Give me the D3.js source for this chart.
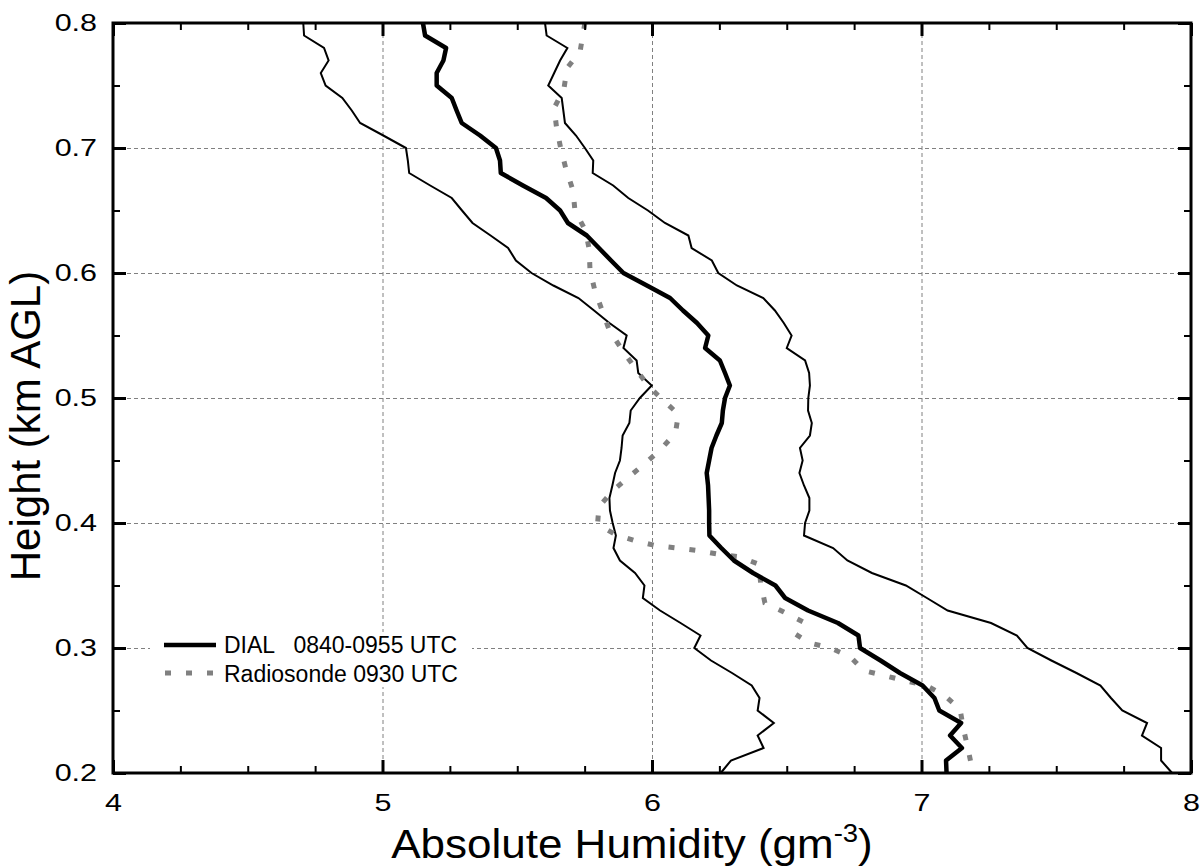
<!DOCTYPE html>
<html>
<head>
<meta charset="utf-8">
<script src="https://cdn.jsdelivr.net/npm/d3@7"></script>
<style>
  body { margin: 0; background: #fff; }
  text { font-family: "Liberation Sans", Arial, sans-serif; fill: #000; }
</style>
</head>
<body>
<svg id="chart" width="1203" height="868"></svg>
<script>
// heights (km AGL) of the DIAL profiles
const heights = [0.80, 0.79, 0.78, 0.77, 0.76, 0.75, 0.74, 0.73, 0.72, 0.71,
  0.70, 0.69, 0.68, 0.67, 0.66, 0.65, 0.64, 0.63, 0.62, 0.61,
  0.60, 0.59, 0.58, 0.57, 0.56, 0.55, 0.54, 0.53, 0.52, 0.51,
  0.50, 0.49, 0.48, 0.47, 0.46, 0.45, 0.44, 0.43, 0.42, 0.41,
  0.40, 0.39, 0.38, 0.37, 0.36, 0.35, 0.34, 0.33, 0.32, 0.31,
  0.30, 0.29, 0.28, 0.27, 0.26, 0.25, 0.24, 0.23, 0.22, 0.21, 0.20];

const dialMean = [5.150, 5.158, 5.236, 5.226, 5.201, 5.201, 5.257, 5.275, 5.294, 5.362,
  5.421, 5.436, 5.439, 5.521, 5.607, 5.659, 5.688, 5.758, 5.803, 5.848,
  5.894, 5.981, 6.067, 6.115, 6.167, 6.209, 6.197, 6.252, 6.271, 6.289,
  6.271, 6.263, 6.259, 6.239, 6.221, 6.212, 6.203, 6.208, 6.210, 6.212,
  6.212, 6.213, 6.257, 6.304, 6.375, 6.458, 6.494, 6.579, 6.690, 6.766,
  6.772, 6.848, 6.920, 7.004, 7.048, 7.066, 7.147, 7.106, 7.150, 7.091, 7.093];

const dialLow = [4.706, 4.709, 4.783, 4.800, 4.771, 4.789, 4.851, 4.886, 4.917, 5.003,
  5.087, 5.094, 5.099, 5.177, 5.257, 5.295, 5.334, 5.401, 5.466, 5.495,
  5.553, 5.634, 5.727, 5.785, 5.842, 5.906, 5.894, 5.943, 5.949, 5.999,
  5.955, 5.921, 5.916, 5.891, 5.887, 5.881, 5.863, 5.853, 5.842, 5.844,
  5.854, 5.866, 5.857, 5.881, 5.937, 5.972, 5.966, 6.030, 6.106, 6.180,
  6.157, 6.219, 6.297, 6.370, 6.399, 6.392, 6.452, 6.392, 6.414, 6.293, 6.255];

const dialHigh = [5.603, 5.609, 5.686, 5.659, 5.637, 5.615, 5.665, 5.671, 5.677, 5.718,
  5.751, 5.782, 5.780, 5.856, 5.912, 5.985, 6.048, 6.135, 6.147, 6.222,
  6.246, 6.315, 6.413, 6.456, 6.489, 6.518, 6.500, 6.568, 6.583, 6.586,
  6.580, 6.579, 6.593, 6.586, 6.549, 6.559, 6.547, 6.564, 6.584, 6.584,
  6.568, 6.564, 6.672, 6.725, 6.816, 6.942, 7.020, 7.097, 7.258, 7.354,
  7.393, 7.482, 7.575, 7.664, 7.703, 7.745, 7.837, 7.818, 7.889, 7.889, 7.930];

// radiosonde 0930 UTC
const sondeHeight = [0.800, 0.777, 0.764, 0.747, 0.732, 0.716, 0.699, 0.683, 0.666, 0.650,
  0.634, 0.619, 0.602, 0.586, 0.570, 0.554, 0.538, 0.524, 0.510, 0.499,
  0.487, 0.472, 0.459, 0.448, 0.437, 0.426, 0.413, 0.399, 0.391, 0.386,
  0.382, 0.380, 0.378, 0.375, 0.373, 0.367, 0.352, 0.336, 0.329, 0.321,
  0.311, 0.304, 0.300, 0.293, 0.282, 0.278, 0.274, 0.270, 0.262, 0.251,
  0.235, 0.218, 0.200];
const sondeValue = [5.751, 5.733, 5.685, 5.673, 5.637, 5.646, 5.662, 5.681, 5.707, 5.714,
  5.753, 5.767, 5.770, 5.788, 5.815, 5.842, 5.891, 5.937, 5.985, 6.037,
  6.098, 6.087, 6.033, 5.976, 5.915, 5.855, 5.803, 5.798, 5.863, 5.935,
  6.012, 6.090, 6.167, 6.247, 6.323, 6.397, 6.403, 6.419, 6.487, 6.560,
  6.533, 6.585, 6.662, 6.736, 6.785, 6.860, 6.936, 7.017, 7.086, 7.143,
  7.156, 7.174, 7.191];

const xMajor = [4, 5, 6, 7, 8];
const xMinor = [4.25, 4.5, 4.75, 5.25, 5.5, 5.75, 6.25, 6.5, 6.75, 7.25, 7.5, 7.75];
const yMajor = [0.2, 0.3, 0.4, 0.5, 0.6, 0.7, 0.8];
const yMinor = [0.25, 0.35, 0.45, 0.55, 0.65, 0.75];
const legendLabels = ["DIAL   0840-0955 UTC", "Radiosonde 0930 UTC"];

const width = 1203, height = 868;
let margin = ({top: 23, right: 12, bottom: 95, left: 113});
const svg = d3.select("#chart");

let x = d3.scaleLinear().domain([4, 8]).range([margin.left, width - margin.right]);
let y = d3.scaleLinear().domain([0.2, 0.8]).range([height - margin.bottom, margin.top]);
const x0 = x.range()[0], x1 = x.range()[1], y0 = y.range()[0], y1 = y.range()[1];

// grid
svg.append("g")
  .attr("transform", `translate(0,${y0})`)
  .call(d3.axisBottom(x).tickValues([5, 6, 7]).tickSize(-(y0 - y1)).tickFormat(""))
  .call(g => g.select(".domain").remove())
  .selectAll("line").attr("stroke", "#808080").attr("stroke-width", 1).attr("stroke-dasharray", "4,3");
svg.append("g")
  .attr("transform", `translate(${x0},0)`)
  .call(d3.axisLeft(y).tickValues([0.3, 0.4, 0.5, 0.6, 0.7]).tickSize(-(x1 - x0)).tickFormat(""))
  .call(g => g.select(".domain").remove())
  .selectAll("line").attr("stroke", "#808080").attr("stroke-width", 1).attr("stroke-dasharray", "4,3");

// legend box hides the grid behind it
svg.append("rect")
  .attr("x", 150).attr("y", 632).attr("width", 322).attr("height", 55)
  .attr("fill", "#fff");

// curves
let line = d3.line()
  .x(d => x(d[0]))
  .y(d => y(d[1]));

const lowPts = heights.map((h, i) => [dialLow[i], h]);
const highPts = heights.map((h, i) => [dialHigh[i], h]);
const meanPts = heights.map((h, i) => [dialMean[i], h]);
const sondePts = sondeHeight.map((h, i) => [sondeValue[i], h]);

svg.append("path").datum(lowPts)
  .attr("d", line).attr("fill", "none").attr("stroke", "#000").attr("stroke-width", 2);
svg.append("path").datum(highPts)
  .attr("d", line).attr("fill", "none").attr("stroke", "#000").attr("stroke-width", 2);
svg.append("path").datum(sondePts)
  .attr("d", line).attr("fill", "none").attr("stroke", "#808080")
  .attr("stroke-width", 5).attr("stroke-dasharray", "6,15");
svg.append("path").datum(meanPts)
  .attr("d", line).attr("fill", "none").attr("stroke", "#000")
  .attr("stroke-width", 4.5).attr("stroke-linejoin", "round");

// axes: ticks point inward on all four sides
function tickStyle(g, w) {
  g.select(".domain").remove();
  g.selectAll("line").attr("stroke", "#000").attr("stroke-width", w);
}
svg.append("g").attr("transform", `translate(0,${y0})`)
  .call(d3.axisBottom(x).tickValues(xMinor).tickSize(-7).tickFormat(""))
  .call(g => tickStyle(g, 2));
svg.append("g").attr("transform", `translate(0,${y1})`)
  .call(d3.axisTop(x).tickValues(xMinor).tickSize(-7).tickFormat(""))
  .call(g => tickStyle(g, 2));
svg.append("g").attr("transform", `translate(${x0},0)`)
  .call(d3.axisLeft(y).tickValues(yMinor).tickSize(-7).tickFormat(""))
  .call(g => tickStyle(g, 2));
svg.append("g").attr("transform", `translate(${x1},0)`)
  .call(d3.axisRight(y).tickValues(yMinor).tickSize(-7).tickFormat(""))
  .call(g => tickStyle(g, 2));

// tick labels in the source are drawn wider than Arial, so stretch them a bit
let xAxis = svg.append("g").attr("transform", `translate(0,${y0})`)
  .call(d3.axisBottom(x).tickValues(xMajor).tickSize(-13).tickPadding(21).tickFormat(d3.format("d")))
  .call(g => tickStyle(g, 3));
xAxis.selectAll("text")
  .attr("font-size", "24px").attr("fill", "#000")
  .attr("transform", "scale(1.27,1)");
svg.append("g").attr("transform", `translate(0,${y1})`)
  .call(d3.axisTop(x).tickValues(xMajor).tickSize(-13).tickFormat(""))
  .call(g => tickStyle(g, 3));

let yAxis = svg.append("g").attr("transform", `translate(${x0},0)`)
  .call(d3.axisLeft(y).tickValues(yMajor).tickSize(-13).tickFormat(d3.format(".1f")))
  .call(g => tickStyle(g, 3));
yAxis.selectAll("text")
  .attr("font-size", "24px").attr("fill", "#000")
  .attr("x", 0)
  .attr("transform", "translate(-16,0) scale(1.27,1)");
svg.append("g").attr("transform", `translate(${x1},0)`)
  .call(d3.axisRight(y).tickValues(yMajor).tickSize(-13).tickFormat(""))
  .call(g => tickStyle(g, 3));

svg.selectAll(".tick text").attr("font-family", "'Liberation Sans', Arial, sans-serif");

// frame
svg.append("rect")
  .attr("x", x0).attr("y", y1).attr("width", x1 - x0).attr("height", y0 - y1)
  .attr("fill", "none").attr("stroke", "#000").attr("stroke-width", 3);

// axis titles
let xTitle = svg.append("text")
  .attr("transform", "translate(632,858) scale(1.1,1)")
  .attr("text-anchor", "middle")
  .attr("font-size", "40px");
xTitle.append("tspan").text("Absolute Humidity (gm");
xTitle.append("tspan").attr("font-size", "25px").attr("dy", -16).text("-3");
xTitle.append("tspan").attr("dy", 16).text(")");

svg.append("text")
  .attr("transform", "translate(40,426) rotate(-90)")
  .attr("text-anchor", "middle")
  .attr("font-size", "42px")
  .text("Height (km AGL)");

// legend
let legend = svg.append("g");
legend.append("line")
  .attr("x1", 164).attr("x2", 216).attr("y1", 645).attr("y2", 645)
  .attr("stroke", "#000").attr("stroke-width", 4.5);
legend.append("line")
  .attr("x1", 165).attr("x2", 216).attr("y1", 673).attr("y2", 673)
  .attr("stroke", "#808080").attr("stroke-width", 5).attr("stroke-dasharray", "6,15");
legend.selectAll("text.lab")
  .data(legendLabels)
  .enter().append("text")
    .attr("class", "lab")
    .attr("x", 224)
    .attr("y", (d, i) => 653 + i * 29)
    .attr("font-size", "23px")
    .style("white-space", "pre")
    .text(d => d);
</script>
</body>
</html>
